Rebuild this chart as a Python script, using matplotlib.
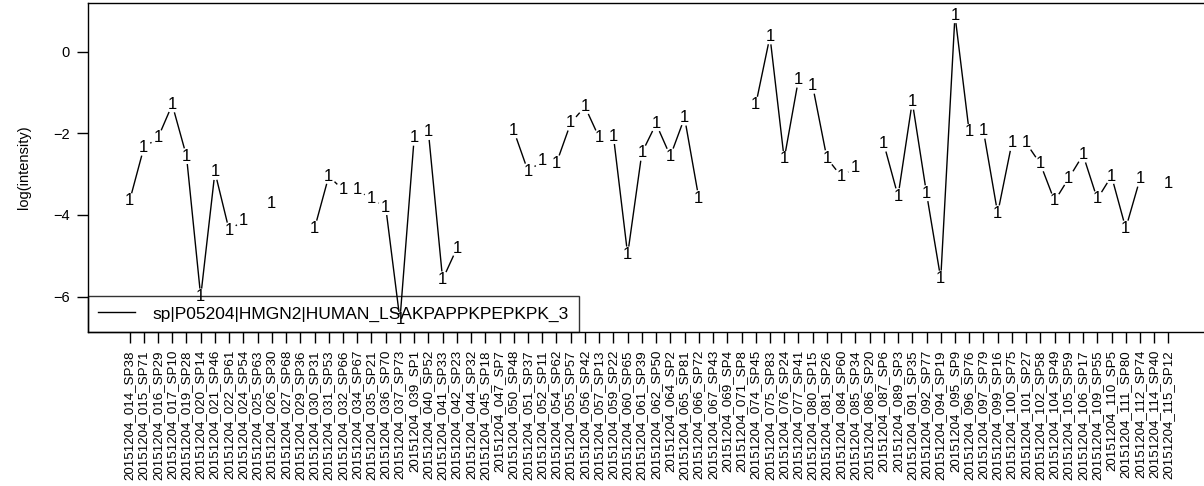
import numpy as np
import matplotlib
matplotlib.use("Agg")
import matplotlib.pyplot as plt

plt.rcParams['font.family'] = ['Liberation Sans', 'DejaVu Sans']

# sample names (x axis) and log intensities, NaN = missing
samples = [
    "20151204_014_SP38", "20151204_015_SP71", "20151204_016_SP29", "20151204_017_SP10",
    "20151204_019_SP28", "20151204_020_SP14", "20151204_021_SP46", "20151204_022_SP61",
    "20151204_024_SP54", "20151204_025_SP63", "20151204_026_SP30", "20151204_027_SP68",
    "20151204_029_SP36", "20151204_030_SP31", "20151204_031_SP53", "20151204_032_SP66",
    "20151204_034_SP67", "20151204_035_SP21", "20151204_036_SP70", "20151204_037_SP73",
    "20151204_039_SP1", "20151204_040_SP52", "20151204_041_SP33", "20151204_042_SP23",
    "20151204_044_SP32", "20151204_045_SP18", "20151204_047_SP7", "20151204_050_SP48",
    "20151204_051_SP37", "20151204_052_SP11", "20151204_054_SP62", "20151204_055_SP57",
    "20151204_056_SP42", "20151204_057_SP13", "20151204_059_SP22", "20151204_060_SP65",
    "20151204_061_SP39", "20151204_062_SP50", "20151204_064_SP2", "20151204_065_SP81",
    "20151204_066_SP72", "20151204_067_SP43", "20151204_069_SP4", "20151204_071_SP8",
    "20151204_074_SP45", "20151204_075_SP83", "20151204_076_SP24", "20151204_077_SP41",
    "20151204_080_SP15", "20151204_081_SP26", "20151204_084_SP60", "20151204_085_SP34",
    "20151204_086_SP20", "20151204_087_SP6", "20151204_089_SP3", "20151204_091_SP35",
    "20151204_092_SP77", "20151204_094_SP19", "20151204_095_SP9", "20151204_096_SP76",
    "20151204_097_SP79", "20151204_099_SP16", "20151204_100_SP75", "20151204_101_SP27",
    "20151204_102_SP58", "20151204_104_SP49", "20151204_105_SP59", "20151204_106_SP17",
    "20151204_109_SP55", "20151204_110_SP5", "20151204_111_SP80", "20151204_112_SP74",
    "20151204_114_SP40", "20151204_115_SP12",
]

nan = np.nan
intensity = [
    -3.66, -2.36, -2.11, -1.30, -2.56, -6.00, -2.95, -4.38, -4.13, nan,
    -3.71, nan, nan, -4.33, -3.05, -3.39, -3.39, -3.61, -3.81, -6.57,
    -2.11, -1.97, -5.58, -4.82, nan, nan, nan, -1.94, -2.93, -2.68,
    -2.73, -1.75, -1.35, -2.11, -2.07, -4.97, -2.48, -1.77, -2.56, -1.62,
    -3.59, nan, nan, nan, -1.30, 0.37, -2.63, -0.69, -0.84, -2.61,
    -3.05, -2.85, nan, -2.26, -3.54, -1.23, -3.47, -5.56, 0.89, -1.97,
    -1.94, -3.96, -2.24, -2.24, -2.75, -3.66, -3.10, -2.53, -3.61, -3.05,
    -4.33, -3.12, nan, -3.22,
]

series_name = "sp|P05204|HMGN2|HUMAN_LSAKPAPPKPEPKPK_3"
yticks = [0, -2, -4, -6]

W, H = 1204, 486
fig = plt.figure(figsize=(W / 100, H / 100), dpi=100)
ax = fig.add_axes([88 / W, (H - 332) / H, (1210 - 88) / W, (332 - 3) / H])

x = np.arange(1, len(samples) + 1)
y = np.array(intensity, dtype=float)

# R-like axis padding (4%)
xr = x.max() - x.min()
ax.set_xlim(x.min() - 0.04 * xr, x.max() + 0.04 * xr)
ymin, ymax = np.nanmin(y), np.nanmax(y)
yr = ymax - ymin
ax.set_ylim(ymin - 0.04 * yr, ymax + 0.04 * yr)

# type="b": segments with a gap around each point character
gap = 8.0
to_px = ax.transData
to_data = ax.transData.inverted()
for i in range(len(x) - 1):
    if np.isnan(y[i]) or np.isnan(y[i + 1]):
        continue
    p0 = to_px.transform((x[i], y[i]))
    p1 = to_px.transform((x[i + 1], y[i + 1]))
    d = p1 - p0
    length = np.hypot(*d)
    if length <= 2 * gap:
        continue
    u = d / length
    a = to_data.transform(p0 + gap * u)
    b = to_data.transform(p1 - gap * u)
    ax.plot([a[0], b[0]], [a[1], b[1]], color='black', lw=1.0, solid_capstyle='butt')

for xi, yi in zip(x, y):
    if np.isnan(yi):
        continue
    ax.text(xi, yi, "1", ha='center', va='center', fontsize=12, color='black')

ax.set_xticks(x)
ax.set_xticklabels(samples, rotation=90, fontsize=9.6)
ax.set_yticks(yticks)
ax.set_yticklabels([("\u2212%d" % -t if t < 0 else str(t)) for t in yticks], fontsize=10.5)
ax.tick_params(axis='both', direction='out', length=8, width=1, pad=5)
ax.set_ylabel("log(intensity)", fontsize=10.5, labelpad=16)
for s in ax.spines.values():
    s.set_linewidth(1.0)

# legend without fill, like R's legend over the plot
handle = ax.plot([], [], color='black', lw=1.0, label=series_name)[0]
leg = ax.legend(handles=[handle], loc='lower left', borderaxespad=0, fontsize=12.5,
                fancybox=False, facecolor='none', framealpha=None, edgecolor='black',
                handlelength=2.1, handletextpad=1.0, borderpad=0.6)
leg.get_frame().set_linewidth(1.0)

fig.savefig("out.png", dpi=100)
